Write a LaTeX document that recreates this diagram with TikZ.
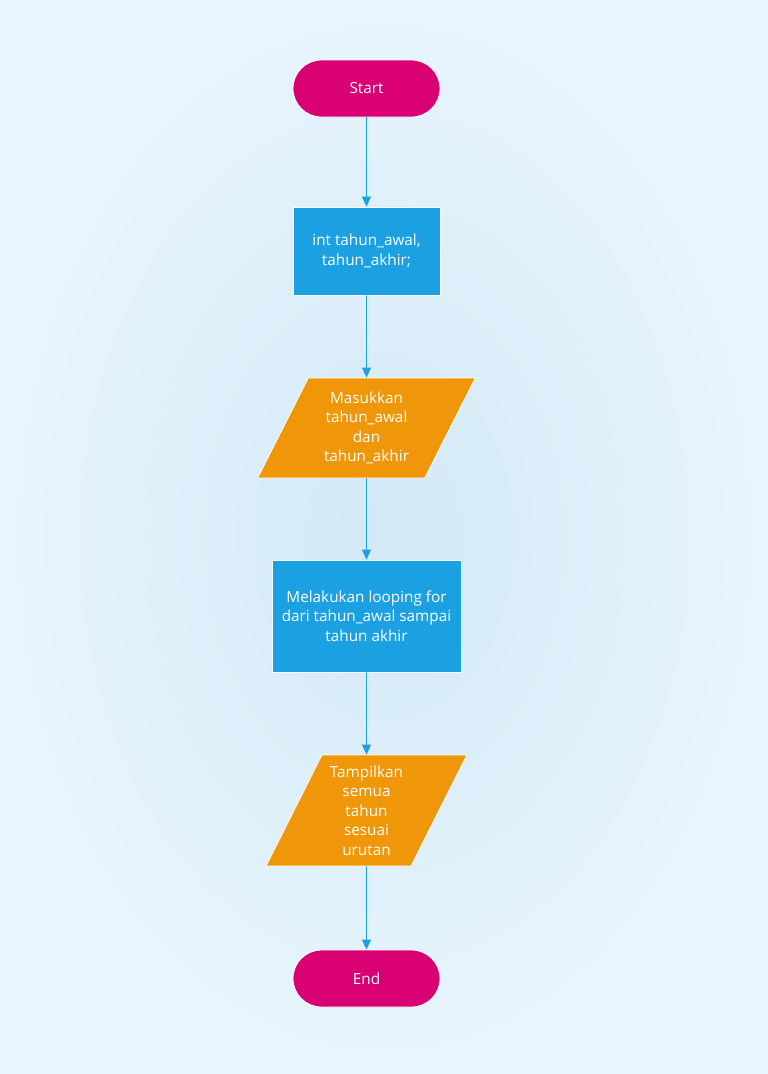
\documentclass[tikz,border=0pt]{standalone}
\usepackage{fontspec}
\setmainfont{Open Sans}
\usetikzlibrary{shapes.geometric,arrows.meta}
\definecolor{kbgin}{HTML}{D2E9F6}
\definecolor{kbgout}{HTML}{E8F5FD}
\definecolor{kmag}{HTML}{D80073}
\definecolor{kblue}{HTML}{1BA1E2}
\definecolor{korange}{HTML}{F09609}
\begin{document}
\begin{tikzpicture}[x=1pt,y=-1pt,
  base/.style={draw=white,line width=0.8pt,text=white,align=center,inner sep=0pt,font=\fontsize{15.3}{19.5}\selectfont},
  term/.style={base,fill=kmag,rectangle,rounded corners=28.5pt,minimum width=147pt,minimum height=57pt},
  proc/.style={base,fill=kblue,rectangle},
  io/.style={base,fill=korange,trapezium,trapezium left angle=63,trapezium right angle=117,trapezium stretches=true},
  flow/.style={draw=kblue,line width=0.9pt,-{Triangle[length=10pt,width=9pt]}}]
\pgfmathsetmacro{\kx}{366.5}
\useasboundingbox (0,0) rectangle (768,1074);
\shade[inner color=kbgin,outer color=kbgout] (0,0) rectangle (768,1074);
\node[term] (start) at (\kx,88.5) {Start};
\node[proc,minimum width=147pt,minimum height=88pt] (decl) at (\kx,251) {int tahun\_awal,\\tahun\_akhir;};
\node[io,minimum width=218pt,minimum height=100pt] (input) at (\kx,428) {Masukkan\\tahun\_awal\\dan\\tahun\_akhir};
\node[proc,minimum width=189pt,minimum height=112pt] (loop) at (\kx,616) {Melakukan looping for\\dari tahun\_awal sampai\\tahun akhir};
\node[io,minimum width=201pt,minimum height=111pt] (output) at (\kx,810.5) {Tampilkan\\semua\\tahun\\sesuai\\urutan};
\node[term] (end) at (\kx,978.5) {End};
\foreach \ka/\kb in {start/decl,decl/input,input/loop,loop/output,output/end}{\draw[flow](\ka.south)--(\kb.north);}
\end{tikzpicture}
\end{document}
